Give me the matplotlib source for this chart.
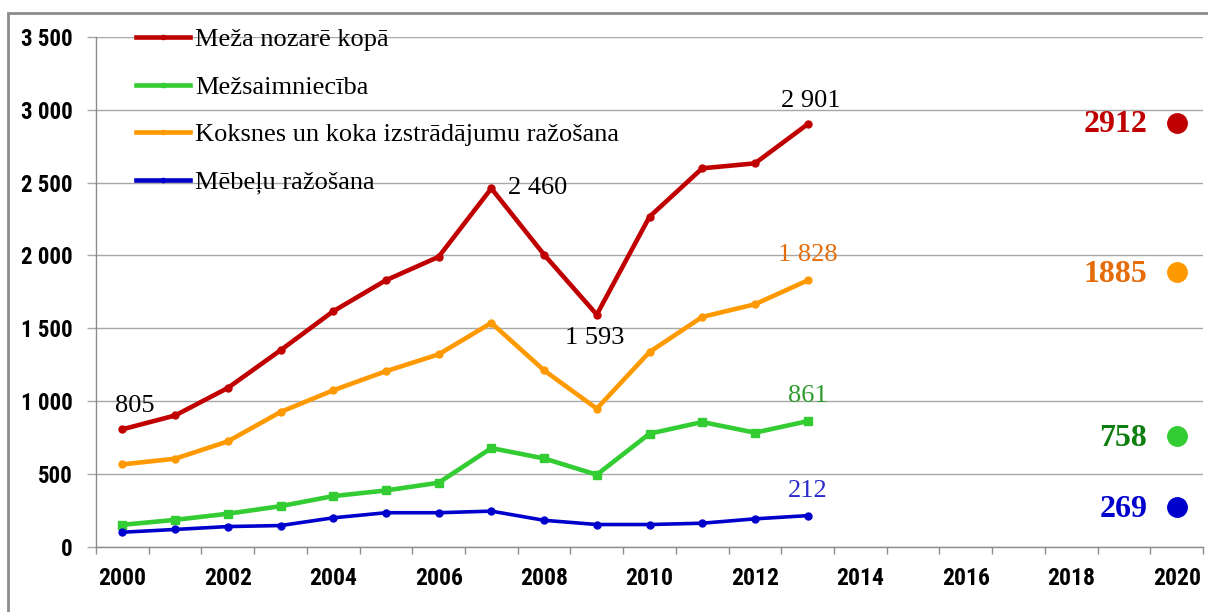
import numpy as np
import matplotlib
matplotlib.use("Agg")
import matplotlib.pyplot as plt
from matplotlib.patches import Rectangle
from matplotlib.lines import Line2D
from matplotlib import font_manager as fm

# ---------------- data ----------------
years = list(range(2000, 2014))
axis_years = list(range(2000, 2021))
series_names = ["Meža nozarē kopā", "Mežsaimniecība",
                "Koksnes un koka izstrādājumu ražošana", "Mēbeļu ražošana"]
total = [805, 900, 1089, 1348, 1616, 1829, 1990, 2460, 2005, 1593, 2265, 2598, 2632, 2901]
forestry = [149, 183, 225, 277, 346, 385, 438, 676, 605, 493, 775, 855, 782, 861]
wood = [564, 603, 722, 924, 1073, 1204, 1320, 1536, 1210, 947, 1336, 1577, 1664, 1828]
furniture = [98, 117, 137, 144, 197, 232, 232, 243, 180, 151, 151, 160, 190, 212]
target_year = 2020
targets = [2912, 1885, 758, 269]          # total, wood, forestry, furniture
total_labelled_years = [2000, 2007, 2009, 2013]
y_ticks = [0, 500, 1000, 1500, 2000, 2500, 3000, 3500]

# ---------------- style ----------------
SERIF = ["Liberation Serif", "DejaVu Serif"]
installed = {f.name for f in fm.fontManager.ttflist}
NARROW = [f for f in ["Liberation Sans Narrow", "Arial Narrow", "Roboto Condensed"] if f in installed]
narrow_found = len(NARROW) > 0
NARROW = NARROW + ["Liberation Sans", "DejaVu Sans"]

line_colors = ["#C00000", "#33CC33", "#FF9900", "#0000CC"]
markers = ["o", "s", "o", "o"]
target_dot_colors = ["#C00000", "#FF9900", "#33CC33", "#0000CC"]
target_text_colors = ["#C00000", "#E46C0A", "#0E7F0E", "#0000CC"]
end_label_colors = [None, "#2E9B2E", "#E46C0A", "#2B2BCC"]

def fmt(v):
    return f"{v:,}".replace(",", " ")

def xpos(y):
    return y - axis_years[0]

fig = plt.figure(figsize=(12.08, 6.12), dpi=100)
ax = fig.add_axes([96 / 1208, 1 - 546.5 / 612, (1203 - 96) / 1208, (546.5 - 37) / 612])

xs = [xpos(y) for y in years]
all_series = [total, forestry, wood, furniture]
lws = [3.3, 3.3, 3.3, 2.6]
msz = [5, 5.5, 5, 5]
for vals, name, c, m, lw, ms in zip(all_series, series_names, line_colors, markers, lws, msz):
    ax.plot(xs, vals, color=c, lw=lw, marker=m, markersize=ms, label=name,
            solid_joinstyle="miter", zorder=3)

# 2020 target dots
for v, c, tc in zip(targets, target_dot_colors, target_text_colors):
    ax.plot([xpos(target_year)], [v], marker="o", color=c,
            markersize=14, linestyle="none", zorder=4)
    ax.annotate(str(v), (xpos(target_year), v), xytext=(-21, -1.5), textcoords="offset points",
                ha="right", va="center", fontsize=23, fontweight="bold",
                color=tc, family=SERIF)

# data labels - total
label_font = dict(fontsize=19, family=SERIF)
offsets_total = {2000: (9, 17, "center"), 2007: (12, 0, "left"),
                 2009: (-1.5, -17, "center"), 2013: (2, 17, "center")}
for y in total_labelled_years:
    v = total[years.index(y)]
    dx, dy, ha = offsets_total[y]
    ax.annotate(fmt(v), (xpos(y), v), xytext=(dx, dy), textcoords="offset points",
                ha=ha, va="center", color="black", **label_font)

# end labels for other series
for vals, col in zip(all_series[1:], end_label_colors[1:]):
    ax.annotate(fmt(vals[-1]), (xs[-1], vals[-1]), xytext=(0, 18), textcoords="offset points",
                ha="center", va="center", color=col, **label_font)

# axes
ax.set_xlim(-0.5, 20.5)
ax.set_ylim(0, 3500)
ax.set_yticks(y_ticks)
ax.set_yticklabels([fmt(v) for v in y_ticks])
ax.set_xticks(np.arange(-0.5, 21, 1))
ax.set_xticklabels([])
ax.set_xticks([xpos(y) for y in axis_years[::2]], minor=True)
ax.set_xticklabels([str(y) for y in axis_years[::2]], minor=True)

grid_c = "#A8A8A8"
ax.grid(axis="y", color=grid_c, lw=1.0, zorder=0)
ax.set_axisbelow(True)
for s in ["top", "right"]:
    ax.spines[s].set_visible(False)
for s in ["left", "bottom"]:
    ax.spines[s].set_color("#8C8C8C")
    ax.spines[s].set_linewidth(1.0)

ax.tick_params(axis="y", length=6.5, width=1.0, color=grid_c, pad=10.5)
ax.tick_params(axis="x", which="major", length=5, width=1.0, color="#8C8C8C")
ax.tick_params(axis="x", which="minor", length=0, pad=15 if narrow_found else 15)
for lab in ax.get_yticklabels():
    lab.set_family(NARROW)
    lab.set_fontsize(16.5 if narrow_found else 16)
    lab.set_fontweight("bold")
for lab in ax.get_xticklabels(minor=True):
    lab.set_family(NARROW)
    lab.set_fontsize(17 if narrow_found else 15)
    lab.set_fontweight("bold")

# legend
handles = [Line2D([], [], color=c, lw=3.3, marker=m, markersize=3) for c, m in zip(line_colors, markers)]
leg = ax.legend(handles, series_names, loc="upper left", bbox_to_anchor=(40 / 1107, 1.018),
                frameon=False, borderpad=0, borderaxespad=0, handlelength=2.05,
                handletextpad=0.2, labelspacing=0.91, prop=dict(family=SERIF, size=19))

# outer chart border
fig.patches.append(Rectangle((8 / 1208, -0.2), 1.2, 1.2 - 13 / 612, transform=fig.transFigure,
                             fill=False, edgecolor="#8C8C8C", lw=2.0, zorder=0))

fig.savefig("out.png", dpi=100)
